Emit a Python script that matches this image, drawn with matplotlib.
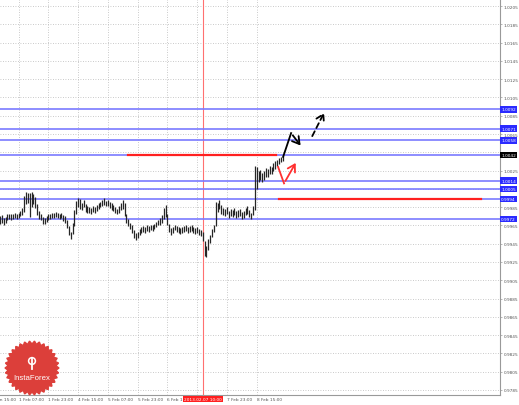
import numpy as np
import matplotlib
matplotlib.use("Agg")
import matplotlib.pyplot as plt
from matplotlib.transforms import blended_transform_factory

# ---------------- data (hourly bars, EURCHF-like) ----------------
highs = [.9975, .9976, .9973, .9974, .9977, .9978, .9977, .9978, .9979, .9978,
         .9979, .9981, .9984, .9997, 1.0002, 1.0001, 1.0000, 1.0002, .9999, .9996,
         .9988, .9981, .9978, .9974, .9973, .9975, .9977, .9978, .9979, .9979,
         .9980, .9979, .9978, .9979, .9976, .9975, .9971, .9964, .9958, .9968,
         .9982, .9992, .9995, .9994, .9990, .9993, .9988, .9986, .9985, .9984,
         .9986, .9985, .9987, .9989, .9991, .9993, .9995, .9992, .9993, .9991,
         .9989, .9987, .9985, .9983, .9986, .9990, .9993, .9990, .9977, .9972,
         .9968, .9965, .9960, .9957, .9958, .9961, .9963, .9964, .9963, .9965,
         .9964, .9966, .9965, .9967, .9969, .9971, .9973, .9976, .9984, .9987,
         .9977, .9967, .9962, .9963, .9966, .9964, .9963, .9962, .9963, .9964,
         .9965, .9963, .9964, .9965, .9963, .9962, .9963, .9961, .9960, .9958,
         .9948, .9942, .9950, .9954, .9961, .9966, .9991, .9990, .9993, .9987,
         .9984, .9983, .9985, .9981, .9983, .9982, .9984, .9981, .9982, .9983,
         .9980, .9981, .9984, .9986, .9982, .9979, .9986, 1.0030, 1.0029, 1.0024,
         1.0026, 1.0022, 1.0025, 1.0028, 1.0027, 1.0030, 1.0029, 1.0033, 1.0035, 1.0037,
         1.0039, 1.0040, 1.0042]
lows = [.9967, .9968, .9966, .9968, .9971, .9972, .9971, .9972, .9973, .9972,
        .9973, .9975, .9976, .9980, .9988, .9990, .9974, .9985, .9988, .9984,
        .9976, .9972, .9971, .9967, .9967, .9969, .9971, .9972, .9973, .9973,
        .9974, .9973, .9972, .9973, .9970, .9968, .9962, .9954, .9950, .9956,
        .9964, .9978, .9985, .9983, .9982, .9985, .9980, .9979, .9979, .9978,
        .9980, .9979, .9981, .9983, .9985, .9986, .9987, .9986, .9986, .9984,
        .9982, .9981, .9979, .9977, .9979, .9982, .9983, .9975, .9968, .9964,
        .9961, .9957, .9951, .9949, .9951, .9954, .9957, .9958, .9957, .9959,
        .9958, .9960, .9959, .9961, .9963, .9965, .9966, .9968, .9972, .9974,
        .9965, .9958, .9955, .9957, .9960, .9958, .9957, .9956, .9957, .9958,
        .9959, .9957, .9958, .9959, .9957, .9956, .9957, .9955, .9953, .9948,
        .9932, .9930, .9938, .9946, .9952, .9958, .9964, .9980, .9983, .9977,
        .9976, .9975, .9977, .9973, .9975, .9974, .9976, .9973, .9974, .9975,
        .9972, .9973, .9976, .9978, .9974, .9972, .9976, .9982, 1.0005, 1.0012,
        1.0015, 1.0012, 1.0015, 1.0018, 1.0018, 1.0021, 1.0021, 1.0024, 1.0027, 1.0030,
        1.0032, 1.0034, 1.0036]

# support / resistance levels (blue) and their tags
levels = [1.0092, 1.0071, 1.0058, 1.0042, 1.0014, 1.0005, 0.9994, 0.9972]
level_tags = ["1.0092", "1.0071", "1.0058", "1.0042", "1.0014", "1.0005", "0.9994", "0.9972"]

# red horizontal lines: (level, start bar, end bar)
red_lines = [(1.0042, 68.8, 148.4), (0.9994, 150.0, 258.6)]

# forecast arrows (bar, price)
black_x = [152.2, 156.5, 162.5]
black_y = [1.0040, 1.0066, 1.0050]
dash_x = [167.2, 174.9]
dash_y = [1.0060, 1.0091]
red_x = [149.5, 152.7, 159.7]
red_y = [1.0029, 1.0011, 1.0036]

# axis labels
ytick_vals = [1.0205, 1.0185, 1.0165, 1.0145, 1.0125, 1.0105, 1.0085, 1.0065,
              1.0025, 0.9985, 0.9965, 0.9945, 0.9925, 0.9905, 0.9885, 0.9865,
              0.9845, 0.9825, 0.9805, 0.9785]
grid_y = [1.0205, 1.0185, 1.0165, 1.0145, 1.0125, 1.0105, 1.0085, 1.0065, 1.0045,
          1.0025, 1.0005, 0.9985, 0.9965, 0.9945, 0.9925, 0.9905, 0.9885, 0.9865,
          0.9845, 0.9825, 0.9805, 0.9785]
xtick_pos = [-6, 10, 26, 42, 58, 74, 90, 106, 122, 138]
xtick_labels = ["31 Jan 15:00", "1 Feb 07:00", "1 Feb 23:00", "4 Feb 15:00", "5 Feb 07:00",
                "5 Feb 23:00", "6 Feb 15:00", "", "7 Feb 23:00", "8 Feb 15:00"]
marker_bar = 109
marker_label = "2013.02.07 10:00"

# ---------------- plot ----------------
W, H = 519, 406
fig = plt.figure(figsize=(W / 100, H / 100), dpi=100)
fig.patch.set_facecolor("white")
ax = fig.add_axes([0, 10 / H, 500 / W, 396 / H])
ax.set_xlim(0, 268.8)
ax.set_ylim(0.97795, 1.02127)

gcol = "#b8b8b8"
for g in grid_y:
    ax.axhline(g, color=gcol, lw=0.6, ls=(0, (1, 2)), zorder=0)
for p in xtick_pos[1:]:
    ax.axvline(p, color=gcol, lw=0.6, ls=(0, (1, 2)), zorder=0)

# marker line
ax.axvline(marker_bar, color="#ff7070", lw=0.8, zorder=1)

# blue levels
for lv in levels:
    ax.axhline(lv, color="#7a7aff", lw=1.2, zorder=2)

# red lines
for lv, x0, x1 in red_lines:
    ax.plot([x0, x1], [lv, lv], color="#ff2020", lw=1.6, zorder=3)

# price bars
bars = np.arange(len(highs))
ax.vlines(bars, lows, highs, color="#262626", lw=0.9, zorder=4)

# forecast arrows
ax.plot(black_x[:-1], black_y[:-1], color="black", lw=1.3, zorder=5)
ax.annotate("", xy=(black_x[-1], black_y[-1]), xytext=(black_x[-2], black_y[-2]),
            arrowprops=dict(arrowstyle="->,head_length=0.5,head_width=0.3", color="black", lw=1.3),
            zorder=5)
ax.annotate("", xy=(dash_x[1], dash_y[1]), xytext=(dash_x[0], dash_y[0]),
            arrowprops=dict(arrowstyle="->,head_length=0.5,head_width=0.3", color="black",
                            lw=1.3, ls=(0, (3, 2))), zorder=5)
ax.plot(red_x[:-1], red_y[:-1], color="#ff3030", lw=1.3, zorder=5)
ax.annotate("", xy=(red_x[-1], red_y[-1]), xytext=(red_x[-2], red_y[-2]),
            arrowprops=dict(arrowstyle="->,head_length=0.5,head_width=0.3", color="#ff3030", lw=1.3),
            zorder=5)

# axes styling
for s in ["top", "left"]:
    ax.spines[s].set_visible(False)
for s in ["right", "bottom"]:
    ax.spines[s].set_color("#999999")
    ax.spines[s].set_linewidth(0.8)
ax.yaxis.tick_right()
ax.set_yticks(ytick_vals)
ax.set_yticklabels([f"{v:.4f}" for v in ytick_vals], fontsize=3.1, color="#555555")
ax.tick_params(axis="y", length=1.5, width=0.5, color="#999999", pad=1)
ax.set_xticks([])

ytr = blended_transform_factory(ax.transAxes, ax.transData)
for lv, tag in zip(levels, level_tags):
    fc = "black" if tag == "1.0042" else "#2a2aff"
    ax.text(1.002, lv, tag, transform=ytr, fontsize=3.1, color="white", va="center", ha="left",
            bbox=dict(boxstyle="square,pad=0.3", fc=fc, ec="none"), clip_on=False, zorder=10)

xtr = blended_transform_factory(ax.transData, ax.transAxes)
for p, lab in zip(xtick_pos, xtick_labels):
    if lab:
        ax.text(p, -0.006, lab, transform=xtr, fontsize=3.1, color="#555555", ha="left",
                va="top", clip_on=False)
ax.text(marker_bar, -0.006, marker_label, transform=xtr, fontsize=3.1, color="white",
        ha="center", va="top", clip_on=False, zorder=10,
        bbox=dict(boxstyle="square,pad=0.25", fc="#ff2020", ec="none"))

# InstaForex badge (pixel coordinates overlay)
lay = fig.add_axes([0, 0, 1, 1])
lay.set_xlim(0, W)
lay.set_ylim(H, 0)
lay.axis("off")
lay.patch.set_alpha(0)
n = 34
ang = np.linspace(0, 2 * np.pi, 2 * n, endpoint=False)
rad = np.where(np.arange(2 * n) % 2 == 0, 27, 24)
lay.fill(32 + rad * np.cos(ang), 369 + rad * np.sin(ang), color="#dc3f3a", zorder=1)
lay.text(32, 379, "InstaForex", color="white", fontsize=5.6, ha="center", va="center",
         family="Liberation Sans", zorder=2)
lay.add_patch(plt.Circle((32, 362), 3.4, fc="none", ec="white", lw=1.1, zorder=2))
lay.plot([32, 32], [359, 370], color="white", lw=1.3, zorder=2)

fig.savefig("out.png", dpi=100, facecolor="white")
